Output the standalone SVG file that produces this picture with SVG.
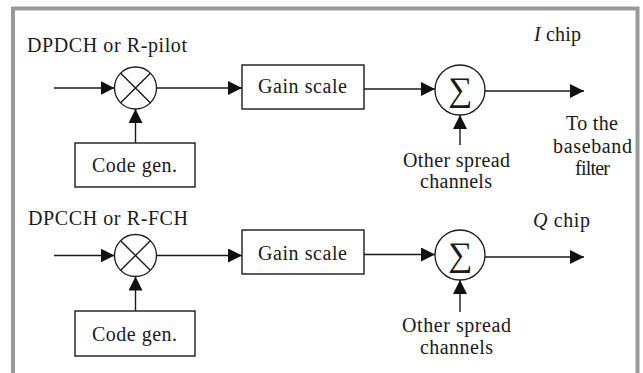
<svg xmlns="http://www.w3.org/2000/svg" width="643" height="373" viewBox="0 0 643 373">
  <style>
    .t { font-family: "Liberation Serif", "Times New Roman", serif; font-size: 20px; fill: #1a1a1a; }
    .m { text-anchor: middle; }
    .box { fill: #fff; stroke: #1a1a1a; stroke-width: 1.4; }
    .circ { fill: #fff; stroke: #1a1a1a; stroke-width: 1.3; }
    .ln { fill: none; stroke: #1a1a1a; stroke-width: 1.4; }
    .arr { fill: none; stroke: #1a1a1a; stroke-width: 1.4; marker-end: url(#ah); }
    .sig { font-family: "Liberation Serif", serif; font-size: 34px; text-anchor: middle; fill: #1a1a1a; }
  </style>
  <defs>
    <marker id="ah" markerUnits="userSpaceOnUse" markerWidth="15" markerHeight="15" refX="14" refY="7" orient="auto">
      <path d="M0,0 L14,7 L0,14 Z" fill="#111"/>
    </marker>
  </defs>
  <rect x="0" y="0" width="643" height="373" fill="#fff"/>
  <rect x="13" y="8.5" width="624.5" height="420" fill="none" stroke="#999" stroke-width="4"/>

  <g id="connectors">
    <line class="arr" x1="54" y1="88" x2="114.5" y2="88"/>
    <line class="arr" x1="156.5" y1="88" x2="242" y2="88"/>
    <line class="arr" x1="364" y1="89" x2="435" y2="89"/>
    <line class="arr" x1="485" y1="91" x2="584" y2="91"/>
    <line class="arr" x1="135.5" y1="143" x2="135.5" y2="109"/>
    <line class="arr" x1="460" y1="145" x2="460" y2="115"/>

    <line class="arr" x1="54" y1="255.5" x2="114.5" y2="255.5"/>
    <line class="arr" x1="156.5" y1="255.5" x2="242" y2="255.5"/>
    <line class="arr" x1="364" y1="254.5" x2="435" y2="254.5"/>
    <line class="arr" x1="485" y1="257" x2="584" y2="257"/>
    <line class="arr" x1="135.5" y1="311" x2="135.5" y2="276.5"/>
    <line class="arr" x1="460" y1="312" x2="460" y2="280"/>
  </g>

  <g id="label-dpdch"><text class="t" x="27" y="52" textLength="160">DPDCH or R-pilot</text></g>
  <g id="mult1">
    <circle class="circ" cx="135.5" cy="88" r="21"/>
    <path class="ln" d="M120.7,73.2 L150.3,102.8 M150.3,73.2 L120.7,102.8"/>
  </g>
  <g id="gain1">
    <rect class="box" x="242" y="65" width="122" height="44"/>
    <text class="t" x="258" y="93" textLength="89">Gain scale</text>
  </g>
  <g id="code1">
    <rect class="box" x="75" y="143" width="120" height="44"/>
    <text class="t" x="92" y="172" textLength="85">Code gen.</text>
  </g>
  <g id="sum1">
    <circle class="circ" cx="460" cy="90" r="25"/>
    <text class="sig" x="460" y="101">∑</text>
  </g>
  <g id="other1">
    <text class="t m" x="456.5" y="167" textLength="107">Other spread</text>
    <text class="t m" x="456" y="188" textLength="72">channels</text>
  </g>
  <g id="ichip"><text class="t" x="534" y="41" textLength="47"><tspan font-style="italic">I</tspan> chip</text></g>
  <g id="tofilter">
    <text class="t m" x="592" y="130" textLength="52">To the</text>
    <text class="t m" x="592.5" y="153" textLength="79">baseband</text>
    <text class="t m" x="592.5" y="175" textLength="35">filter</text>
  </g>

  <g id="label-dpcch"><text class="t" x="28" y="225" textLength="160">DPCCH or R-FCH</text></g>
  <g id="mult2">
    <circle class="circ" cx="135.5" cy="255.5" r="21"/>
    <path class="ln" d="M120.7,240.7 L150.3,270.3 M150.3,240.7 L120.7,270.3"/>
  </g>
  <g id="gain2">
    <rect class="box" x="242" y="230" width="122" height="44"/>
    <text class="t" x="258" y="260" textLength="89">Gain scale</text>
  </g>
  <g id="code2">
    <rect class="box" x="75" y="311" width="120" height="45"/>
    <text class="t" x="92" y="341" textLength="85">Code gen.</text>
  </g>
  <g id="sum2">
    <circle class="circ" cx="460" cy="255" r="25"/>
    <text class="sig" x="460" y="266">∑</text>
  </g>
  <g id="other2">
    <text class="t m" x="456.5" y="332" textLength="109">Other spread</text>
    <text class="t m" x="456.5" y="354" textLength="73">channels</text>
  </g>
  <g id="qchip"><text class="t" x="533" y="227" textLength="57"><tspan font-style="italic">Q</tspan> chip</text></g>
</svg>
